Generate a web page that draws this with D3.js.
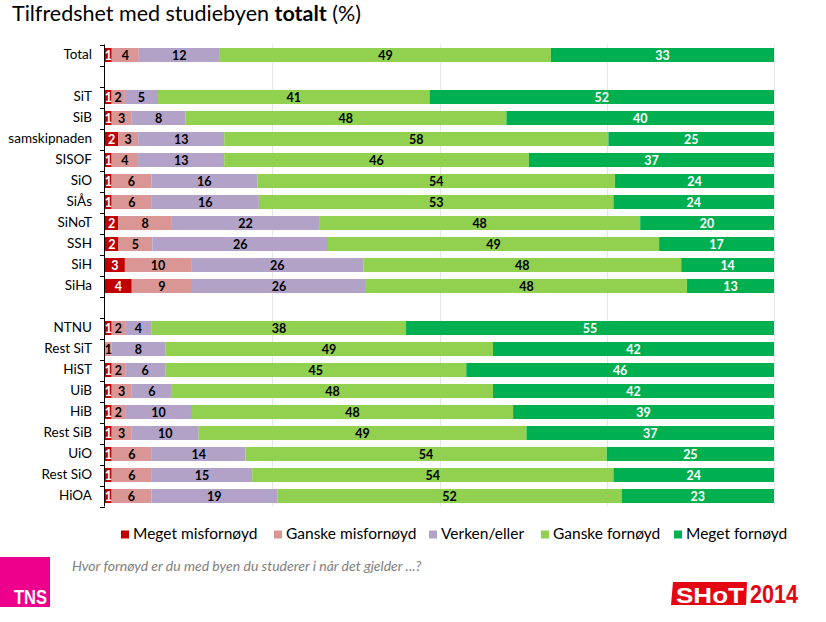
<!DOCTYPE html>
<html>
<head>
<meta charset="utf-8">
<script src="https://cdn.jsdelivr.net/npm/d3@7/dist/d3.min.js"></script>
<style>
  html, body { margin: 0; padding: 0; background: #fff; }
  svg { display: block; }
  text { font-family: Lato, "Open Sans", sans-serif; }
</style>
</head>
<body>
<svg id="chart" width="826" height="622"></svg>
<script>
// ---- data ----
const categories = ["Total", "", "SiT", "SiB", "samskipnaden", "SISOF", "SiO", "SiÅs", "SiNoT", "SSH", "SiH", "SiHa", "", "NTNU", "Rest SiT", "HiST", "UiB", "HiB", "Rest SiB", "UiO", "Rest SiO", "HiOA"];
const seriesNames = ["Meget misfornøyd", "Ganske misfornøyd", "Verken/eller", "Ganske fornøyd", "Meget fornøyd"];
const megetMisfornoyd  = [1, null, 1, 1, 2, 1, 1, 1, 2, 2, 3, 4, null, 1, 0, 1, 1, 1, 1, 1, 1, 1];
const ganskeMisfornoyd = [4, null, 2, 3, 3, 4, 6, 6, 8, 5, 10, 9, null, 2, 1, 2, 3, 2, 3, 6, 6, 6];
const verkenEller      = [12, null, 5, 8, 13, 13, 16, 16, 22, 26, 26, 26, null, 4, 8, 6, 6, 10, 10, 14, 15, 19];
const ganskeFornoyd    = [49, null, 41, 48, 58, 46, 54, 53, 48, 49, 48, 48, null, 38, 49, 45, 48, 48, 49, 54, 54, 52];
const megetFornoyd     = [33, null, 52, 40, 25, 37, 24, 24, 20, 17, 14, 13, null, 55, 42, 46, 42, 39, 37, 25, 24, 23];
const xTicks = [0, 0.25, 0.5, 0.75, 1];

const colors = ["#c00000", "#d99694", "#b3a2c7", "#92d050", "#00b050"];
const labelColors = ["#ffffff", "#000000", "#000000", "#000000", "#ffffff"];

const seriesArrays = [megetMisfornoyd, ganskeMisfornoyd, verkenEller, ganskeFornoyd, megetFornoyd];
const rows = categories.map((c, i) => {
  const r = { idx: i, name: c, gap: megetFornoyd[i] === null };
  seriesNames.forEach((s, k) => r[s] = seriesArrays[k][i] === null ? 0 : seriesArrays[k][i]);
  return r;
});

const svg = d3.select("#chart");

// title
const title = svg.append("text").attr("x", 12).attr("y", 21)
  .attr("font-size", 21.5).attr("fill", "#000");
title.append("tspan").text("Tilfredshet med studiebyen ");
title.append("tspan").attr("font-weight", "bold").text("totalt");
title.append("tspan").text(" (%)");

const plotLeft = 105, plotRight = 774, plotTop = 44.5, plotBottom = 506.5;

const x = d3.scaleLinear().domain([0, 1]).range([plotLeft, plotRight]);
const y = d3.scaleBand().domain(d3.range(categories.length))
  .range([plotTop, plotBottom]).paddingInner(1/3).paddingOuter(1/6);

// gridlines
svg.append("g").selectAll("line").data(xTicks.slice(1)).join("line")
  .attr("x1", d => Math.round(x(d)) + 0.5).attr("x2", d => Math.round(x(d)) + 0.5)
  .attr("y1", plotTop).attr("y2", plotBottom)
  .attr("stroke", "#e6e6e6").attr("stroke-width", 1);

// stacked
const stack = d3.stack().keys(seriesNames).offset(d3.stackOffsetExpand);
const stacked = stack(rows.filter(r => !r.gap));

const layers = svg.append("g").selectAll("g").data(stacked).join("g")
  .attr("fill", (d, k) => colors[k]);
layers.selectAll("rect").data(d => d).join("rect")
  .attr("x", d => x(d[0]))
  .attr("width", d => Math.max(0, x(d[1]) - x(d[0])))
  .attr("y", d => y(d.data.idx))
  .attr("height", y.bandwidth());

// value labels
const lbl = svg.append("g");
stacked.forEach((layer, k) => {
  lbl.selectAll(null).data(layer.filter(d => d.data[seriesNames[k]] > 0)).join("text")
    .attr("x", d => (x(d[0]) + x(d[1])) / 2)
    .attr("y", d => y(d.data.idx) + y.bandwidth() / 2)
    .attr("dy", "0.36em")
    .attr("text-anchor", "middle")
    .attr("font-size", 12.5).attr("font-weight", "bold")
    .attr("fill", labelColors[k])
    .text(d => d.data[seriesNames[k]]);
});

// y axis with category labels
const yAxis = d3.axisLeft(y).tickSize(0).tickPadding(13).tickFormat(i => categories[i]);
const ga = svg.append("g").attr("transform", `translate(${plotLeft},0)`).call(yAxis);
ga.select(".domain").remove();
ga.selectAll("text").attr("font-size", 13.5).attr("fill", "#000")
  .style("font-family", "Lato, 'Open Sans', sans-serif");

// axis line and boundary ticks (Excel style)
svg.append("line").attr("x1", plotLeft - 0.5).attr("x2", plotLeft - 0.5)
  .attr("y1", plotTop).attr("y2", plotBottom).attr("stroke", "#000");
const step = y.step();
svg.append("g").selectAll("line").data(d3.range(categories.length + 1)).join("line")
  .attr("x1", plotLeft - 5).attr("x2", plotLeft)
  .attr("y1", i => Math.round(plotTop + i * step) + 0.5)
  .attr("y2", i => Math.round(plotTop + i * step) + 0.5)
  .attr("stroke", "#000");

// legend
const legendX = [121, 274, 429, 541, 674];
const lg = svg.append("g");
seriesNames.forEach((s, k) => {
  lg.append("rect").attr("x", legendX[k]).attr("y", 530.5).attr("width", 8).attr("height", 8).attr("fill", colors[k]);
  lg.append("text").attr("x", legendX[k] + 12).attr("y", 534).attr("dy", "0.35em")
    .attr("font-size", 15.5).attr("fill", "#000").text(s);
});

// footer question
svg.append("text").attr("x", 72).attr("y", 571).attr("font-size", 14)
  .attr("font-style", "italic").attr("fill", "#808080")
  .text("Hvor fornøyd er du med byen du studerer i når det gjelder ...?");

// TNS logo
svg.append("rect").attr("x", 0).attr("y", 557).attr("width", 50).attr("height", 50).attr("fill", "#ec008c");
svg.append("text").attr("x", 14).attr("y", 604).attr("font-size", 20).attr("font-weight", "bold")
  .attr("fill", "#fff").attr("textLength", 33).attr("lengthAdjust", "spacingAndGlyphs")
  .style("font-family", "'Liberation Sans Narrow', 'Liberation Sans', sans-serif").text("TNS");

// SHoT 2014 logo
svg.append("polygon").attr("points", "673,582 747,582 746,605 671,605").attr("fill", "#e30613");
svg.append("text").attr("x", 676).attr("y", 603).attr("font-size", 22).attr("font-weight", "bold")
  .attr("fill", "#fff").attr("textLength", 68).attr("lengthAdjust", "spacingAndGlyphs")
  .style("font-family", "'Liberation Sans', sans-serif").text("SHoT");
svg.append("text").attr("x", 750).attr("y", 603).attr("font-size", 25).attr("font-weight", "bold")
  .attr("fill", "#e30613").attr("textLength", 48).attr("lengthAdjust", "spacingAndGlyphs")
  .style("font-family", "'Liberation Sans Narrow', 'Liberation Sans', sans-serif").text("2014");
</script>
</body>
</html>
